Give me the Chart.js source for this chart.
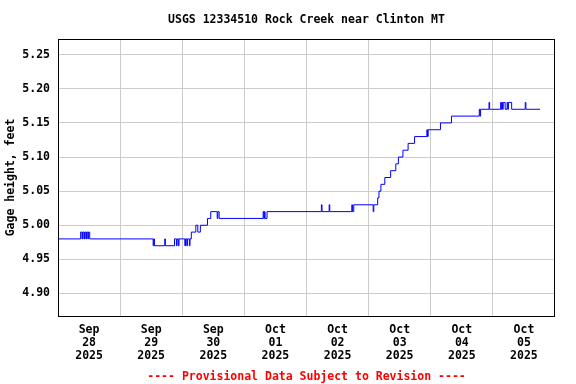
<!DOCTYPE html>
<html>
<head>
<meta charset="utf-8">
<script src="https://cdn.jsdelivr.net/npm/chart.js@4.4.1/dist/chart.umd.min.js"></script>
<style>
  html, body { margin: 0; padding: 0; background: #ffffff; }
  canvas { display: block; }
</style>
</head>
<body>
<canvas id="gageChart" width="576" height="384"></canvas>
<script>
// hours since Sep 28 2025 00:00 at which the reading changed, and the new reading (ft)
const CHANGE_HOURS = [
  0, 8.75, 9.25, 9.5, 10, 10.25, 10.75, 11, 11.5, 11.75, 12.25,
  36.75, 37, 37.25, 41.25, 41.5, 45, 45.75, 46, 46.5, 46.75, 49, 49.25, 49.75, 50, 50.75, 51,
  51.5, 53.25, 54, 55, 57.75, 59, 61.5, 61.75, 62.25,
  79.25, 79.5, 79.75, 80, 80.75, 101.75, 102, 104.75, 105,
  113.5, 113.75, 114.25, 121.75, 122,
  123.5, 124, 124.75, 126.25, 128.5, 130.5, 131.5, 133.25, 135.25, 137.75,
  142.5, 142.75, 143, 147.75, 152,
  162.75, 163, 163.25, 166.5, 166.75, 171, 171.25, 171.5, 171.75, 172, 172.75,
  173.5, 173.75, 174, 175.25, 180.5, 180.75, 186.25
];
const GAGE_VALUES = [
  4.98, 4.99, 4.98, 4.99, 4.98, 4.99, 4.98, 4.99, 4.98, 4.99, 4.98,
  4.97, 4.98, 4.97, 4.98, 4.97, 4.98, 4.97, 4.98, 4.97, 4.98, 4.97, 4.98, 4.97, 4.98, 4.97, 4.98,
  4.99, 5.00, 4.99, 5.00, 5.01, 5.02, 5.01, 5.02, 5.01,
  5.02, 5.01, 5.02, 5.01, 5.02, 5.03, 5.02, 5.03, 5.02,
  5.03, 5.02, 5.03, 5.02, 5.03,
  5.04, 5.05, 5.06, 5.07, 5.08, 5.09, 5.10, 5.11, 5.12, 5.13,
  5.14, 5.13, 5.14, 5.15, 5.16,
  5.17, 5.16, 5.17, 5.18, 5.17, 5.18, 5.17, 5.18, 5.17, 5.18, 5.17,
  5.18, 5.17, 5.18, 5.17, 5.18, 5.17, 5.17
];

const DAY_LABELS = [
  ["Sep", "28", "2025"], ["Sep", "29", "2025"], ["Sep", "30", "2025"], ["Oct", "01", "2025"],
  ["Oct", "02", "2025"], ["Oct", "03", "2025"], ["Oct", "04", "2025"], ["Oct", "05", "2025"]
];
const Y_TICKS = [4.90, 4.95, 5.00, 5.05, 5.10, 5.15, 5.20, 5.25];
const Y_MIN = 4.867;
const Y_MAX = 5.273;
const X_MAX = 24 * DAY_LABELS.length;

const FONT = { family: "'DejaVu Sans Mono', 'Liberation Mono', monospace", size: 11.5, weight: "bold" };
const GRID = "#cccccc";

const frameBorder = {
  id: "frameBorder",
  afterDraw(chart) {
    const { ctx, chartArea: a } = chart;
    ctx.save();
    ctx.strokeStyle = "#000000";
    ctx.lineWidth = 1;
    ctx.strokeRect(Math.round(a.left) + 0.5, Math.round(a.top) + 0.5,
      Math.round(a.right - a.left) - 1, Math.round(a.bottom - a.top));
    ctx.restore();
  },
};

new Chart(document.getElementById("gageChart"), {
  type: "line",
  data: {
    datasets: [{
      data: CHANGE_HOURS.map((h, i) => ({ x: h, y: GAGE_VALUES[i] })),
      borderColor: "#0000ff",
      borderWidth: 1,
      pointRadius: 0,
      stepped: true,
      fill: false,
    }],
  },
  options: {
    responsive: false,
    animation: false,
    layout: { padding: { left: 0, right: 21, top: 0, bottom: 0 } },
    scales: {
      x: {
        type: "linear",
        min: 0,
        max: X_MAX,
        afterBuildTicks: (scale) => {
          const ticks = [];
          for (let h = 0; h <= X_MAX; h += 12) ticks.push({ value: h });
          scale.ticks = ticks;
        },
        afterFit: (scale) => { scale.height = 52; },
        grid: {
          drawTicks: false,
          color: (ctx) => {
            const v = ctx.tick && ctx.tick.value;
            return v % 24 === 0 && v > 0 && v < X_MAX ? GRID : "rgba(0,0,0,0)";
          },
        },
        border: { display: false },
        ticks: {
          autoSkip: false,
          maxRotation: 0,
          padding: 8,
          color: "#000000",
          font: { ...FONT, lineHeight: 1.13 },
          callback: (value) => (value % 24 === 12 ? DAY_LABELS[(value - 12) / 24] : ""),
        },
      },
      y: {
        min: Y_MIN,
        max: Y_MAX,
        afterBuildTicks: (scale) => { scale.ticks = Y_TICKS.map((v) => ({ value: v })); },
        afterFit: (scale) => { scale.width = 58; },
        grid: { drawTicks: false, color: GRID },
        border: { display: false },
        ticks: {
          padding: 8,
          color: "#000000",
          font: FONT,
          callback: (value) => Number(value).toFixed(2),
        },
        title: {
          display: true,
          text: "Gage height, feet",
          color: "#000000",
          font: FONT,
          padding: { top: 4, bottom: 0 },
        },
      },
    },
    plugins: {
      legend: { display: false },
      tooltip: { enabled: false },
      title: {
        display: true,
        fullSize: false,
        text: "USGS 12334510 Rock Creek near Clinton MT",
        color: "#000000",
        font: FONT,
        padding: { top: 13, bottom: 12.2 },
      },
      subtitle: {
        display: true,
        position: "bottom",
        fullSize: false,
        text: "---- Provisional Data Subject to Revision ----",
        color: "#ff0000",
        font: FONT,
        padding: { top: 2, bottom: 0.2 },
      },
    },
  },
  plugins: [frameBorder],
});
</script>
</body>
</html>
